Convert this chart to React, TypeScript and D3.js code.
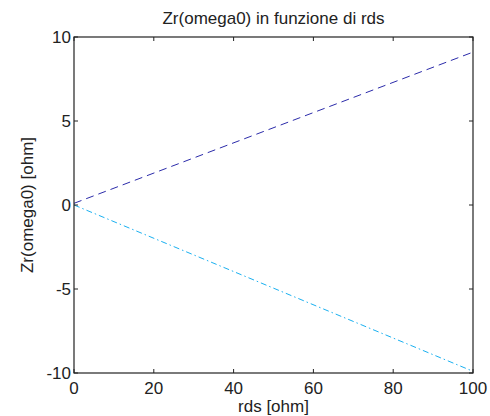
import React from "react";
import * as d3 from "d3";

const rdsValues = [0, 100];
const seriesDashed = [0.1, 9.1];
const seriesDashDot = [0, -9.9];
const xTicks = [0, 20, 40, 60, 80, 100];
const yTicks = [-10, -5, 0, 5, 10];
const titleText = "Zr(omega0) in funzione di rds";
const xLabel = "rds [ohm]";
const yLabel = "Zr(omega0) [ohm]";

export default function App() {
  const W = 490, H = 416;
  const L = 74, R = 473, T = 37, B = 373;
  const x = d3.scaleLinear().domain([0, 100]).range([L, R]);
  const y = d3.scaleLinear().domain([-10, 10]).range([B, T]);
  const line = d3.line<number>().x((_, i) => x(rdsValues[i])).y((d) => y(d));
  const font = "'Liberation Sans', Arial, Helvetica, sans-serif";
  const tl = 4;
  const fs = 17;
  return (
    <svg width={W} height={H} style={{ position: "absolute", left: 0, top: 0 }} fontFamily={font}>
      <rect x={0} y={0} width={W} height={H} fill="#fff" />
      <path d={line(seriesDashed) || ""} fill="none" stroke="#2b2baa" strokeWidth={1} strokeDasharray="8,5" />
      <path d={line(seriesDashDot) || ""} fill="none" stroke="#1ab0f0" strokeWidth={1} strokeDasharray="6,3,1.5,3" />
      <rect x={L} y={T} width={R - L} height={B - T} fill="none" stroke="#222" strokeWidth={1.2} />
      {xTicks.map((t) => (
        <g key={"x" + t}>
          <line x1={x(t)} x2={x(t)} y1={B} y2={B - tl} stroke="#222" />
          <line x1={x(t)} x2={x(t)} y1={T} y2={T + tl} stroke="#222" />
          <text x={x(t)} y={B + 21} textAnchor="middle" fontSize={fs} fill="#222">{t}</text>
        </g>
      ))}
      {yTicks.map((t) => (
        <g key={"y" + t}>
          <line x1={L} x2={L + tl} y1={y(t)} y2={y(t)} stroke="#222" />
          <line x1={R} x2={R - tl} y1={y(t)} y2={y(t)} stroke="#222" />
          <text x={L - 3} y={y(t) + 6} textAnchor="end" fontSize={fs} fill="#222">{t}</text>
        </g>
      ))}
      <text x={(L + R) / 2} y={24} textAnchor="middle" fontSize={fs} fill="#222">{titleText}</text>
      <text x={(L + R) / 2} y={412} textAnchor="middle" fontSize={fs} fill="#222">{xLabel}</text>
      <text transform={`translate(33,${(T + B) / 2}) rotate(-90)`} textAnchor="middle" fontSize={fs} fill="#222">{yLabel}</text>
    </svg>
  );
}
